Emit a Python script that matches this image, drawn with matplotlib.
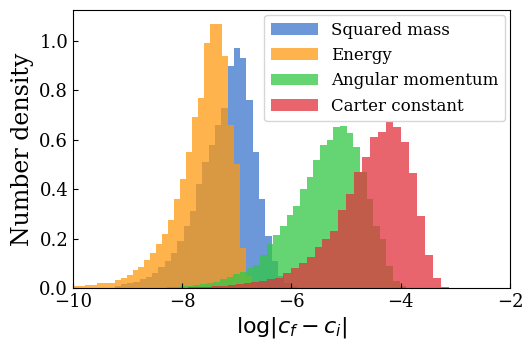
import numpy as np
import matplotlib
matplotlib.use("Agg")
import matplotlib.pyplot as plt

plt.rcParams['font.family'] = 'DejaVu Serif'
plt.rcParams['mathtext.fontset'] = 'dejavusans'

# histogram data: first bin edge, bin width, densities
mass_start, mass_width = -9.24, 0.115
mass_density = [0.01, 0.015, 0.02, 0.025, 0.035, 0.046, 0.06, 0.086, 0.11, 0.14,
                0.19, 0.25, 0.31, 0.42, 0.51, 0.58, 0.66, 0.73,
                0.90, 0.97, 0.93, 0.76, 0.55, 0.36, 0.21, 0.11, 0.05, 0.02, 0.01]

energy_start, energy_width = -10.0, 0.109
energy_density = [0.008, 0.008, 0.012, 0.012, 0.02, 0.02, 0.02, 0.032, 0.04, 0.053,
                  0.073, 0.086, 0.113, 0.14, 0.18, 0.22, 0.275, 0.36, 0.44, 0.55,
                  0.69, 0.77, 0.99, 1.07, 1.07, 0.94, 0.66, 0.50, 0.16, 0.05, 0.015]

angmom_start, angmom_width = -8.286, 0.122
angmom_density = [0.004, 0.006, 0.008, 0.01, 0.013, 0.016, 0.02, 0.026, 0.035, 0.045,
                  0.055, 0.066, 0.08, 0.093, 0.134, 0.18,
                  0.215, 0.25, 0.295, 0.33, 0.40, 0.45, 0.52, 0.58, 0.60, 0.65,
                  0.656, 0.626, 0.57, 0.47, 0.36, 0.25, 0.20, 0.09, 0.03, 0.01]

carter_start, carter_width = -8.176, 0.1444
carter_density = [0.001, 0.002, 0.003, 0.004, 0.006, 0.008, 0.01, 0.012, 0.016, 0.02,
                  0.025, 0.03, 0.035, 0.04,
                  0.06, 0.08, 0.10, 0.127, 0.167, 0.20, 0.23, 0.316, 0.38, 0.47,
                  0.53, 0.61, 0.63, 0.67, 0.65, 0.59, 0.465, 0.29, 0.134, 0.04, 0.005]

labels = ['Squared mass', 'Energy', 'Angular momentum', 'Carter constant']
colors = ['#3b74cc', '#ff9a10', '#32c846', '#e1323c']

series = [(mass_start, mass_width, mass_density),
          (energy_start, energy_width, energy_density),
          (angmom_start, angmom_width, angmom_density),
          (carter_start, carter_width, carter_density)]

fig = plt.figure(figsize=(5.23, 3.41), dpi=100)
ax = fig.add_axes([0.1396, 0.1554, 0.8354, 0.8153])

for (start, width, dens), lab, col in zip(series, labels, colors):
    dens = np.array(dens)
    edges = start + width * np.arange(len(dens) + 1)
    centers = 0.5 * (edges[:-1] + edges[1:])
    ax.hist(centers, bins=edges, weights=dens, color=col, alpha=0.75, label=lab)

ax.set_xlim(-10, -2)
ax.set_ylim(0, 1.125)
ax.set_xticks([-10, -8, -6, -4, -2])
ax.set_yticks([0.0, 0.2, 0.4, 0.6, 0.8, 1.0])
ax.tick_params(direction='in', labelsize=13)
ax.set_xlabel(r'$\log|c_f - c_i|$', fontsize=16, labelpad=3)
ax.set_ylabel('Number density', fontsize=17)
ax.legend(loc='upper right', fontsize=12, handlelength=2.8, borderaxespad=0.3)

plt.savefig('out.png')
